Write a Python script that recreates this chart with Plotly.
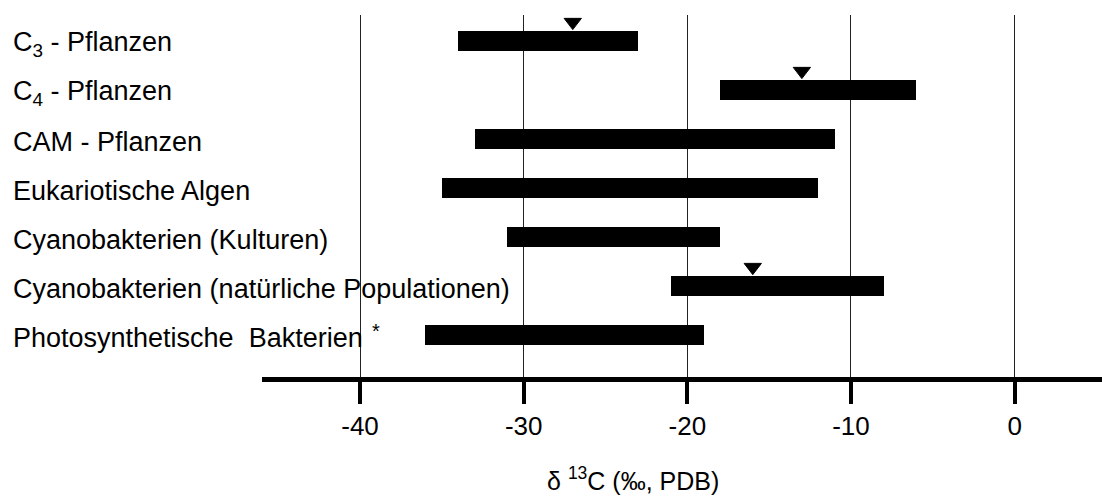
import plotly.graph_objects as go

# Organism groups, top to bottom
categories = [
    "C<sub>3</sub> - Pflanzen",
    "C<sub>4</sub> - Pflanzen",
    "CAM - Pflanzen",
    "Eukariotische Algen",
    "Cyanobakterien (Kulturen)",
    "Cyanobakterien (natürliche Populationen)",
    "Photosynthetische\u00a0 Bakterien",
]
# delta 13C ranges (permil, PDB)
range_min = [-34, -18, -33, -35, -31, -21, -36]
range_max = [-23, -6, -11, -12, -18, -8, -19]
# typical values marked with a triangle (None = no marker)
typical = [-27, -13, None, None, None, -16, None]

x_ticks = [-40, -30, -20, -10, 0]
x_title = "δ <sup>13</sup>C (‰, PDB)"

FONT = "Arial, 'Liberation Sans', sans-serif"
W, H = 1102, 498
M_L, M_R, M_T, M_B = 262, 0, 15, 121
PW = W - M_L - M_R
PH = H - M_T - M_B

rows = list(range(len(categories)))

fig = go.Figure()

fig.add_trace(go.Bar(
    y=rows,
    x=[hi - lo for lo, hi in zip(range_min, range_max)],
    base=range_min,
    orientation="h",
    width=0.39,
    marker=dict(color="black", line=dict(width=0)),
    showlegend=False,
    hoverinfo="skip",
))

mk_x = [v for v in typical if v is not None]
mk_y = [i - 0.385 for i, v in enumerate(typical) if v is not None]
fig.add_trace(go.Scatter(
    x=mk_x,
    y=mk_y,
    mode="markers",
    marker=dict(symbol="triangle-down", size=15, color="black",
                line=dict(width=1, color="black")),
    showlegend=False,
    hoverinfo="skip",
))

annotations = []
for i, name in enumerate(categories):
    annotations.append(dict(
        text=name, xref="paper", yref="y",
        x=(11 - M_L) / PW, y=i, xanchor="left", yanchor="middle",
        yshift=-3, showarrow=False,
        font=dict(family=FONT, size=27, color="black"),
    ))

# footnote mark after the last label
annotations.append(dict(
    text="*", xref="paper", yref="y",
    x=(376 - M_L) / PW, y=6, xanchor="center", yanchor="middle",
    yshift=4, showarrow=False,
    font=dict(family=FONT, size=20, color="black"),
))

annotations.append(dict(
    text=x_title, xref="paper", yref="paper",
    x=(633 - M_L) / PW, y=-(479 - (M_T + PH)) / PH,
    xanchor="center", yanchor="middle", showarrow=False,
    font=dict(family=FONT, size=25, color="black"),
))

fig.update_layout(
    width=W, height=H,
    margin=dict(l=M_L, r=M_R, t=M_T, b=M_B, pad=0),
    paper_bgcolor="white", plot_bgcolor="white",
    annotations=annotations,
    bargap=0,
    xaxis=dict(
        range=[-45.99, 5.34],
        tickvals=x_ticks,
        ticktext=[str(t) for t in x_ticks],
        showgrid=True, gridcolor="#222", gridwidth=1,
        zeroline=False,
        showline=True, linecolor="black", linewidth=4.5,
        ticks="outside", ticklen=22, tickwidth=4, tickcolor="black",
        tickfont=dict(family=FONT, size=26, color="black"),
        fixedrange=True,
    ),
    yaxis=dict(
        range=[6.857, -0.53],
        visible=False,
        fixedrange=True,
    ),
)

fig.write_html("out.html", config={"displayModeBar": False})
